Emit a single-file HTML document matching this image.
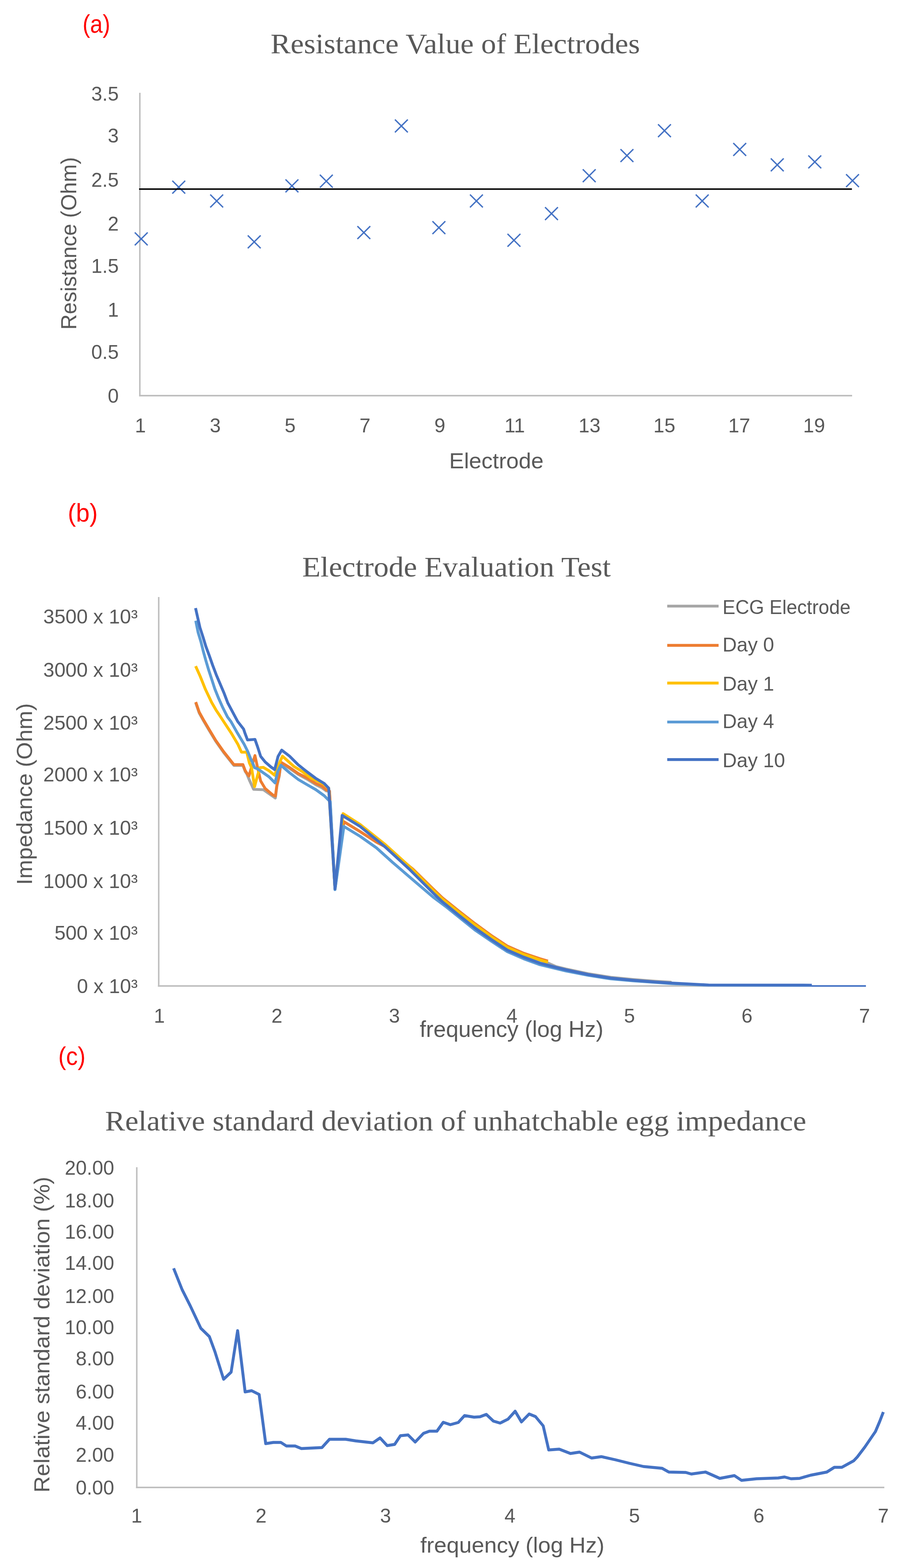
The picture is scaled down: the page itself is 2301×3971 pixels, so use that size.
<!DOCTYPE html>
<html><head><meta charset="utf-8"><title>Electrode charts</title>
<style>html,body{margin:0;padding:0;background:#fff;}svg{display:block;}</style></head>
<body><svg width="2301" height="3971" viewBox="0 0 2301 3971">
<rect width="2301" height="3971" fill="#fff"/>
<text x="209" y="83" font-size="64" text-anchor="start" fill="#FF0000" font-family="'Liberation Sans', Arial, sans-serif" textLength="70" lengthAdjust="spacingAndGlyphs">(a)</text>
<text x="685" y="135" font-size="72.5" text-anchor="start" fill="#595959" font-family="'Liberation Serif', 'Times New Roman', serif" textLength="935" lengthAdjust="spacingAndGlyphs">Resistance Value of Electrodes</text>
<line x1="354.0" y1="235" x2="354.0" y2="1004.0" stroke="#BFBFBF" stroke-width="3.8"/>
<line x1="352.0" y1="1002.0" x2="2157.0" y2="1002.0" stroke="#BFBFBF" stroke-width="3.8"/>
<text x="300.5" y="1019.5" font-size="50" text-anchor="end" fill="#595959" font-family="'Liberation Sans', Arial, sans-serif">0</text>
<text x="300.5" y="908.5" font-size="50" text-anchor="end" fill="#595959" font-family="'Liberation Sans', Arial, sans-serif">0.5</text>
<text x="300.5" y="801.5" font-size="50" text-anchor="end" fill="#595959" font-family="'Liberation Sans', Arial, sans-serif">1</text>
<text x="300.5" y="690.5" font-size="50" text-anchor="end" fill="#595959" font-family="'Liberation Sans', Arial, sans-serif">1.5</text>
<text x="300.5" y="583.5" font-size="50" text-anchor="end" fill="#595959" font-family="'Liberation Sans', Arial, sans-serif">2</text>
<text x="300.5" y="472.5" font-size="50" text-anchor="end" fill="#595959" font-family="'Liberation Sans', Arial, sans-serif">2.5</text>
<text x="300.5" y="361.0" font-size="50" text-anchor="end" fill="#595959" font-family="'Liberation Sans', Arial, sans-serif">3</text>
<text x="300.5" y="254.5" font-size="50" text-anchor="end" fill="#595959" font-family="'Liberation Sans', Arial, sans-serif">3.5</text>
<text x="355.5" y="1095" font-size="50" text-anchor="middle" fill="#595959" font-family="'Liberation Sans', Arial, sans-serif">1</text>
<text x="544.9736842105264" y="1095" font-size="50" text-anchor="middle" fill="#595959" font-family="'Liberation Sans', Arial, sans-serif">3</text>
<text x="734.4473684210527" y="1095" font-size="50" text-anchor="middle" fill="#595959" font-family="'Liberation Sans', Arial, sans-serif">5</text>
<text x="923.921052631579" y="1095" font-size="50" text-anchor="middle" fill="#595959" font-family="'Liberation Sans', Arial, sans-serif">7</text>
<text x="1113.3947368421054" y="1095" font-size="50" text-anchor="middle" fill="#595959" font-family="'Liberation Sans', Arial, sans-serif">9</text>
<text x="1302.8684210526317" y="1095" font-size="50" text-anchor="middle" fill="#595959" font-family="'Liberation Sans', Arial, sans-serif">11</text>
<text x="1492.342105263158" y="1095" font-size="50" text-anchor="middle" fill="#595959" font-family="'Liberation Sans', Arial, sans-serif">13</text>
<text x="1681.8157894736844" y="1095" font-size="50" text-anchor="middle" fill="#595959" font-family="'Liberation Sans', Arial, sans-serif">15</text>
<text x="1871.2894736842106" y="1095" font-size="50" text-anchor="middle" fill="#595959" font-family="'Liberation Sans', Arial, sans-serif">17</text>
<text x="2060.7631578947367" y="1095" font-size="50" text-anchor="middle" fill="#595959" font-family="'Liberation Sans', Arial, sans-serif">19</text>
<text transform="translate(192.5,616.5) rotate(-90)" x="0" y="0" font-size="56" text-anchor="middle" fill="#595959" font-family="'Liberation Sans', Arial, sans-serif" textLength="437" lengthAdjust="spacingAndGlyphs">Resistance (Ohm)</text>
<text x="1256.5" y="1186" font-size="56" text-anchor="middle" fill="#595959" font-family="'Liberation Sans', Arial, sans-serif" textLength="239" lengthAdjust="spacingAndGlyphs">Electrode</text>
<path d="M341.2,588.7L373.8,621.3M373.8,588.7L341.2,621.3" stroke="#4472C4" stroke-width="3.4" fill="none"/>
<path d="M436.2,457.7L468.8,490.3M468.8,457.7L436.2,490.3" stroke="#4472C4" stroke-width="3.4" fill="none"/>
<path d="M532.2,492.7L564.8,525.3M564.8,492.7L532.2,525.3" stroke="#4472C4" stroke-width="3.4" fill="none"/>
<path d="M627.2,596.2L659.8,628.8M659.8,596.2L627.2,628.8" stroke="#4472C4" stroke-width="3.4" fill="none"/>
<path d="M722.7,454.4L755.3,487.0M755.3,454.4L722.7,487.0" stroke="#4472C4" stroke-width="3.4" fill="none"/>
<path d="M809.7,442.5L842.3,475.1M842.3,442.5L809.7,475.1" stroke="#4472C4" stroke-width="3.4" fill="none"/>
<path d="M904.7,572.7L937.3,605.3M937.3,572.7L904.7,605.3" stroke="#4472C4" stroke-width="3.4" fill="none"/>
<path d="M999.7,302.7L1032.3,335.3M1032.3,302.7L999.7,335.3" stroke="#4472C4" stroke-width="3.4" fill="none"/>
<path d="M1094.7,560.2L1127.3,592.8M1127.3,560.2L1094.7,592.8" stroke="#4472C4" stroke-width="3.4" fill="none"/>
<path d="M1189.7,492.7L1222.3,525.3M1222.3,492.7L1189.7,525.3" stroke="#4472C4" stroke-width="3.4" fill="none"/>
<path d="M1284.7,592.2L1317.3,624.8M1317.3,592.2L1284.7,624.8" stroke="#4472C4" stroke-width="3.4" fill="none"/>
<path d="M1379.7,524.7L1412.3,557.3M1412.3,524.7L1379.7,557.3" stroke="#4472C4" stroke-width="3.4" fill="none"/>
<path d="M1475.2,428.7L1507.8,461.3M1507.8,428.7L1475.2,461.3" stroke="#4472C4" stroke-width="3.4" fill="none"/>
<path d="M1570.7,377.7L1603.3,410.3M1603.3,377.7L1570.7,410.3" stroke="#4472C4" stroke-width="3.4" fill="none"/>
<path d="M1665.7,314.7L1698.3,347.3M1698.3,314.7L1665.7,347.3" stroke="#4472C4" stroke-width="3.4" fill="none"/>
<path d="M1761.2,492.7L1793.8,525.3M1793.8,492.7L1761.2,525.3" stroke="#4472C4" stroke-width="3.4" fill="none"/>
<path d="M1856.2,362.2L1888.8,394.8M1888.8,362.2L1856.2,394.8" stroke="#4472C4" stroke-width="3.4" fill="none"/>
<path d="M1951.2,401.2L1983.8,433.8M1983.8,401.2L1951.2,433.8" stroke="#4472C4" stroke-width="3.4" fill="none"/>
<path d="M2046.2,393.7L2078.8,426.3M2078.8,393.7L2046.2,426.3" stroke="#4472C4" stroke-width="3.4" fill="none"/>
<path d="M2141.7,441.2L2174.3,473.8M2174.3,441.2L2141.7,473.8" stroke="#4472C4" stroke-width="3.4" fill="none"/>
<line x1="352" y1="478.8" x2="2156.5" y2="478.8" stroke="#000" stroke-width="3.8"/>
<text x="171.5" y="1320.5" font-size="64" text-anchor="start" fill="#FF0000" font-family="'Liberation Sans', Arial, sans-serif" textLength="76" lengthAdjust="spacingAndGlyphs">(b)</text>
<text x="765" y="1460" font-size="72.5" text-anchor="start" fill="#595959" font-family="'Liberation Serif', 'Times New Roman', serif" textLength="781" lengthAdjust="spacingAndGlyphs">Electrode Evaluation Test</text>
<line x1="401.75" y1="1512" x2="401.75" y2="2499.0" stroke="#BFBFBF" stroke-width="3.8"/>
<line x1="399.75" y1="2497.0" x2="2190" y2="2497.0" stroke="#BFBFBF" stroke-width="3.8"/>
<text x="348.5" y="2514.5" font-size="50" text-anchor="end" fill="#595959" font-family="'Liberation Sans', Arial, sans-serif" textLength="153.8" lengthAdjust="spacingAndGlyphs">0 x 10³</text>
<text x="348.5" y="2379.5" font-size="50" text-anchor="end" fill="#595959" font-family="'Liberation Sans', Arial, sans-serif" textLength="210.6" lengthAdjust="spacingAndGlyphs">500 x 10³</text>
<text x="348.5" y="2248.5" font-size="50" text-anchor="end" fill="#595959" font-family="'Liberation Sans', Arial, sans-serif" textLength="239.0" lengthAdjust="spacingAndGlyphs">1000 x 10³</text>
<text x="348.5" y="2113.5" font-size="50" text-anchor="end" fill="#595959" font-family="'Liberation Sans', Arial, sans-serif" textLength="239.0" lengthAdjust="spacingAndGlyphs">1500 x 10³</text>
<text x="348.5" y="1979.0" font-size="50" text-anchor="end" fill="#595959" font-family="'Liberation Sans', Arial, sans-serif" textLength="239.0" lengthAdjust="spacingAndGlyphs">2000 x 10³</text>
<text x="348.5" y="1848.0" font-size="50" text-anchor="end" fill="#595959" font-family="'Liberation Sans', Arial, sans-serif" textLength="239.0" lengthAdjust="spacingAndGlyphs">2500 x 10³</text>
<text x="348.5" y="1714.0" font-size="50" text-anchor="end" fill="#595959" font-family="'Liberation Sans', Arial, sans-serif" textLength="239.0" lengthAdjust="spacingAndGlyphs">3000 x 10³</text>
<text x="348.5" y="1578.5" font-size="50" text-anchor="end" fill="#595959" font-family="'Liberation Sans', Arial, sans-serif" textLength="239.0" lengthAdjust="spacingAndGlyphs">3500 x 10³</text>
<text x="403.5" y="2590" font-size="50" text-anchor="middle" fill="#595959" font-family="'Liberation Sans', Arial, sans-serif">1</text>
<text x="701.0" y="2590" font-size="50" text-anchor="middle" fill="#595959" font-family="'Liberation Sans', Arial, sans-serif">2</text>
<text x="998.5" y="2590" font-size="50" text-anchor="middle" fill="#595959" font-family="'Liberation Sans', Arial, sans-serif">3</text>
<text x="1296.0" y="2590" font-size="50" text-anchor="middle" fill="#595959" font-family="'Liberation Sans', Arial, sans-serif">4</text>
<text x="1593.5" y="2590" font-size="50" text-anchor="middle" fill="#595959" font-family="'Liberation Sans', Arial, sans-serif">5</text>
<text x="1891.0" y="2590" font-size="50" text-anchor="middle" fill="#595959" font-family="'Liberation Sans', Arial, sans-serif">6</text>
<text x="2188.5" y="2590" font-size="50" text-anchor="middle" fill="#595959" font-family="'Liberation Sans', Arial, sans-serif">7</text>
<text transform="translate(80.5,2011) rotate(-90)" x="0" y="0" font-size="56" text-anchor="middle" fill="#595959" font-family="'Liberation Sans', Arial, sans-serif" textLength="460" lengthAdjust="spacingAndGlyphs">Impedance (Ohm)</text>
<text x="1295" y="2626" font-size="57" text-anchor="middle" fill="#595959" font-family="'Liberation Sans', Arial, sans-serif" textLength="465" lengthAdjust="spacingAndGlyphs">frequency (log Hz)</text>
<polyline points="495.5,1780.0 504.4,1805.8 516.3,1827.2 528.8,1848.3 546.0,1877.0 566.2,1905.8 581.5,1925.0 592.0,1938.4 615.0,1938.4 620.8,1953.8 624.6,1959.5 631.0,1975.0 642.0,1999.0 667.0,2000.0 697.0,2021.0 701.0,1990.0 706.8,1966.0 711.0,1933.0 733.0,1946.0 755.0,1961.0 777.0,1973.0 799.0,1987.0 815.0,1995.0 826.0,2003.0 834.0,2004.0 848.0,2251.0 870.5,2081.0 911.6,2106.0 952.7,2132.5 973.0,2143.0 1045.0,2201.0 1097.0,2252.0 1120.0,2274.0 1161.0,2307.0 1202.0,2339.0 1243.0,2369.0 1284.0,2396.0 1325.0,2414.0 1366.6,2430.0 1407.7,2448.0 1432.5,2454.0 1489.0,2466.0 1546.0,2475.0 1602.0,2480.5 1659.0,2485.0 1700.0,2487.5" fill="none" stroke="#A5A5A5" stroke-width="7.2" stroke-linejoin="round" stroke-linecap="butt"/>
<polyline points="495.5,1778.0 504.4,1803.8 516.3,1825.2 528.8,1846.3 546.0,1875.0 566.2,1903.8 581.5,1923.0 592.0,1936.4 615.0,1936.4 620.8,1951.8 624.6,1957.5 630.1,1965.3 645.4,1913.5 652.1,1944.2 659.8,1977.8 671.3,1997.0 690.5,2013.3 697.2,2016.1 701.0,1987.4 706.8,1963.4 711.0,1930.4 733.0,1943.6 755.0,1959.0 777.0,1970.0 799.0,1984.0 815.0,1991.0 826.0,2000.5 834.0,2003.0 848.0,2251.0 870.5,2081.0 911.6,2106.0 952.7,2132.5 973.0,2143.0 1045.0,2201.0 1097.0,2252.0 1120.0,2274.0 1161.0,2307.0 1202.0,2339.0 1243.0,2369.0 1284.0,2396.0 1325.0,2414.0 1366.6,2428.0 1387.0,2434.0" fill="none" stroke="#ED7D31" stroke-width="7.2" stroke-linejoin="round" stroke-linecap="butt"/>
<polyline points="495.2,1687.0 506.8,1712.9 520.0,1745.8 535.6,1778.6 547.0,1798.4 555.8,1811.5 566.0,1827.1 585.0,1855.9 602.0,1884.6 611.2,1904.8 624.6,1904.8 631.4,1932.6 636.8,1944.2 644.4,1992.2 652.1,1963.4 657.9,1944.2 666.5,1943.3 680.9,1951.9 695.3,1963.4 702.0,1944.2 715.0,1915.0 744.0,1941.0 766.0,1954.5 788.0,1971.0 804.0,1978.0 820.0,1986.0 832.0,1996.0 848.0,2251.0 868.5,2060.5 911.6,2088.0 973.0,2137.0 1035.0,2193.0 1097.0,2255.0 1120.0,2277.0 1161.0,2310.0 1202.0,2342.0 1243.0,2372.0 1284.0,2399.0 1325.0,2417.0 1366.6,2431.0 1387.0,2437.0" fill="none" stroke="#FFC000" stroke-width="7.2" stroke-linejoin="round" stroke-linecap="butt"/>
<polyline points="495.5,1572.0 501.4,1601.4 508.6,1625.2 514.5,1649.0 521.1,1672.9 528.2,1696.7 536.0,1720.5 543.7,1744.3 553.2,1768.1 563.9,1791.9 575.8,1815.7 584.4,1827.1 600.7,1855.9 617.9,1884.6 627.5,1903.8 635.2,1923.0 638.7,1929.8 644.4,1944.2 652.1,1947.1 661.7,1953.8 680.9,1967.2 696.2,1982.6 702.9,1953.8 711.0,1938.0 733.0,1957.0 755.0,1974.0 777.0,1987.0 799.0,1999.5 820.5,2015.0 828.0,2022.5 836.0,2030.0 848.0,2253.0 870.5,2093.0 911.6,2118.0 952.7,2147.0 993.8,2184.0 1024.6,2210.5 1055.5,2237.0 1096.6,2272.0 1127.4,2295.0 1161.0,2322.0 1202.0,2355.0 1243.0,2383.0 1284.0,2410.0 1325.5,2428.0 1366.6,2443.0 1407.7,2453.0 1432.5,2459.0 1489.0,2470.0 1546.0,2479.0 1602.0,2484.0 1659.0,2488.0 1700.0,2491.0 1794.0,2495.0 2055.0,2495.5" fill="none" stroke="#5B9BD5" stroke-width="7.2" stroke-linejoin="round" stroke-linecap="butt"/>
<polyline points="495.0,1540.0 500.8,1565.7 506.2,1589.5 513.9,1613.3 521.1,1637.1 530.0,1661.0 538.3,1684.8 547.3,1708.6 557.4,1732.4 567.5,1756.2 576.5,1780.0 586.3,1798.4 601.6,1827.1 616.6,1846.4 619.8,1855.9 626.6,1874.0 645.4,1872.5 652.1,1891.5 659.8,1915.5 671.3,1929.8 685.7,1942.3 695.3,1949.0 703.9,1915.5 713.0,1899.7 733.0,1915.0 755.0,1937.0 777.0,1954.5 799.0,1971.0 820.5,1984.0 832.0,1996.0 848.0,2251.0 866.0,2065.0 911.6,2093.0 973.0,2143.0 1035.0,2200.0 1097.0,2262.0 1120.0,2284.0 1161.0,2317.5 1202.0,2350.0 1243.0,2379.0 1284.0,2406.0 1325.5,2424.0 1366.6,2439.0 1407.7,2450.0 1432.5,2456.0 1489.0,2468.0 1546.0,2477.0 1602.0,2482.5 1659.0,2487.0 1691.0,2489.0 1794.0,2494.5 2055.0,2495.0" fill="none" stroke="#4472C4" stroke-width="7.2" stroke-linejoin="round" stroke-linecap="butt"/>
<rect x="2055" y="2495" width="137" height="4" fill="#4472C4"/>
<line x1="1689" y1="1535" x2="1819" y2="1535" stroke="#A5A5A5" stroke-width="7.2"/>
<text x="1829" y="1555" font-size="50" text-anchor="start" fill="#595959" font-family="'Liberation Sans', Arial, sans-serif" textLength="324" lengthAdjust="spacingAndGlyphs">ECG Electrode</text>
<line x1="1689" y1="1634.3" x2="1819" y2="1634.3" stroke="#ED7D31" stroke-width="7.2"/>
<text x="1829" y="1650" font-size="50" text-anchor="start" fill="#595959" font-family="'Liberation Sans', Arial, sans-serif">Day 0</text>
<line x1="1689" y1="1729.8" x2="1819" y2="1729.8" stroke="#FFC000" stroke-width="7.2"/>
<text x="1829" y="1748.6" font-size="50" text-anchor="start" fill="#595959" font-family="'Liberation Sans', Arial, sans-serif">Day 1</text>
<line x1="1689" y1="1828.5" x2="1819" y2="1828.5" stroke="#5B9BD5" stroke-width="7.2"/>
<text x="1829" y="1844" font-size="50" text-anchor="start" fill="#595959" font-family="'Liberation Sans', Arial, sans-serif">Day 4</text>
<line x1="1689" y1="1923.6" x2="1819" y2="1923.6" stroke="#4472C4" stroke-width="7.2"/>
<text x="1829" y="1942.8" font-size="50" text-anchor="start" fill="#595959" font-family="'Liberation Sans', Arial, sans-serif">Day 10</text>
<text x="147.5" y="2696.5" font-size="64" text-anchor="start" fill="#FF0000" font-family="'Liberation Sans', Arial, sans-serif" textLength="69" lengthAdjust="spacingAndGlyphs">(c)</text>
<text x="266" y="2863" font-size="72.5" text-anchor="start" fill="#595959" font-family="'Liberation Serif', 'Times New Roman', serif" textLength="1775" lengthAdjust="spacingAndGlyphs">Relative standard deviation of unhatchable egg impedance</text>
<line x1="346.25" y1="2956" x2="346.25" y2="3769.0" stroke="#BFBFBF" stroke-width="3.8"/>
<line x1="344.25" y1="3767.0" x2="2238.5" y2="3767.0" stroke="#BFBFBF" stroke-width="3.8"/>
<text x="289" y="3784.5" font-size="50" text-anchor="end" fill="#595959" font-family="'Liberation Sans', Arial, sans-serif">0.00</text>
<text x="289" y="3701.5" font-size="50" text-anchor="end" fill="#595959" font-family="'Liberation Sans', Arial, sans-serif">2.00</text>
<text x="289" y="3620.8" font-size="50" text-anchor="end" fill="#595959" font-family="'Liberation Sans', Arial, sans-serif">4.00</text>
<text x="289" y="3541.5" font-size="50" text-anchor="end" fill="#595959" font-family="'Liberation Sans', Arial, sans-serif">6.00</text>
<text x="289" y="3458.2" font-size="50" text-anchor="end" fill="#595959" font-family="'Liberation Sans', Arial, sans-serif">8.00</text>
<text x="289" y="3378.5" font-size="50" text-anchor="end" fill="#595959" font-family="'Liberation Sans', Arial, sans-serif">10.00</text>
<text x="289" y="3299.5" font-size="50" text-anchor="end" fill="#595959" font-family="'Liberation Sans', Arial, sans-serif">12.00</text>
<text x="289" y="3216.0" font-size="50" text-anchor="end" fill="#595959" font-family="'Liberation Sans', Arial, sans-serif">14.00</text>
<text x="289" y="3137.0" font-size="50" text-anchor="end" fill="#595959" font-family="'Liberation Sans', Arial, sans-serif">16.00</text>
<text x="289" y="3057.5" font-size="50" text-anchor="end" fill="#595959" font-family="'Liberation Sans', Arial, sans-serif">18.00</text>
<text x="289" y="2974.5" font-size="50" text-anchor="end" fill="#595959" font-family="'Liberation Sans', Arial, sans-serif">20.00</text>
<text x="346" y="3855.5" font-size="50" text-anchor="middle" fill="#595959" font-family="'Liberation Sans', Arial, sans-serif">1</text>
<text x="661" y="3855.5" font-size="50" text-anchor="middle" fill="#595959" font-family="'Liberation Sans', Arial, sans-serif">2</text>
<text x="976" y="3855.5" font-size="50" text-anchor="middle" fill="#595959" font-family="'Liberation Sans', Arial, sans-serif">3</text>
<text x="1291" y="3855.5" font-size="50" text-anchor="middle" fill="#595959" font-family="'Liberation Sans', Arial, sans-serif">4</text>
<text x="1606" y="3855.5" font-size="50" text-anchor="middle" fill="#595959" font-family="'Liberation Sans', Arial, sans-serif">5</text>
<text x="1921" y="3855.5" font-size="50" text-anchor="middle" fill="#595959" font-family="'Liberation Sans', Arial, sans-serif">6</text>
<text x="2236" y="3855.5" font-size="50" text-anchor="middle" fill="#595959" font-family="'Liberation Sans', Arial, sans-serif">7</text>
<text transform="translate(124.5,3380) rotate(-90)" x="0" y="0" font-size="56" text-anchor="middle" fill="#595959" font-family="'Liberation Sans', Arial, sans-serif" textLength="800" lengthAdjust="spacingAndGlyphs">Relative standard deviation (%)</text>
<text x="1297" y="3931.5" font-size="56" text-anchor="middle" fill="#595959" font-family="'Liberation Sans', Arial, sans-serif" textLength="466" lengthAdjust="spacingAndGlyphs">frequency (log Hz)</text>
<polyline points="439.5,3212.0 461.0,3266.0 481.6,3307.0 508.4,3364.0 530.0,3385.0 544.0,3423.0 566.0,3493.0 585.0,3475.0 601.5,3370.0 620.5,3525.0 637.0,3522.0 656.0,3531.5 672.6,3656.0 692.0,3653.0 711.0,3653.0 725.0,3662.0 747.0,3662.0 763.0,3668.5 815.0,3666.0 834.0,3645.0 875.0,3645.0 900.0,3649.0 944.0,3654.0 962.0,3641.6 980.0,3661.0 999.0,3658.0 1013.6,3636.0 1033.0,3634.0 1051.0,3652.0 1072.0,3630.0 1087.0,3624.5 1106.0,3624.5 1122.0,3602.0 1140.0,3608.0 1160.0,3602.5 1176.0,3585.0 1200.0,3589.0 1215.0,3588.0 1231.0,3582.0 1249.0,3599.0 1266.0,3604.0 1286.0,3594.0 1304.0,3574.0 1320.0,3601.0 1339.5,3581.0 1355.5,3587.5 1375.0,3611.0 1389.0,3672.0 1415.6,3670.0 1444.0,3681.0 1467.0,3677.5 1497.5,3692.5 1522.5,3689.0 1558.0,3697.0 1594.0,3706.0 1629.0,3714.0 1676.0,3718.5 1693.0,3728.0 1736.0,3729.0 1750.0,3733.0 1786.0,3728.0 1822.0,3744.0 1859.0,3737.0 1877.0,3749.0 1915.0,3745.0 1970.0,3743.0 1986.0,3740.5 2002.5,3745.0 2024.0,3744.0 2052.0,3736.0 2093.0,3728.0 2112.0,3716.0 2131.0,3716.0 2161.0,3699.5 2170.0,3690.0 2189.0,3665.0 2216.0,3625.5 2227.0,3599.5 2236.0,3576.0" fill="none" stroke="#4472C4" stroke-width="7.4" stroke-linejoin="round" stroke-linecap="butt"/>
</svg></body></html>
